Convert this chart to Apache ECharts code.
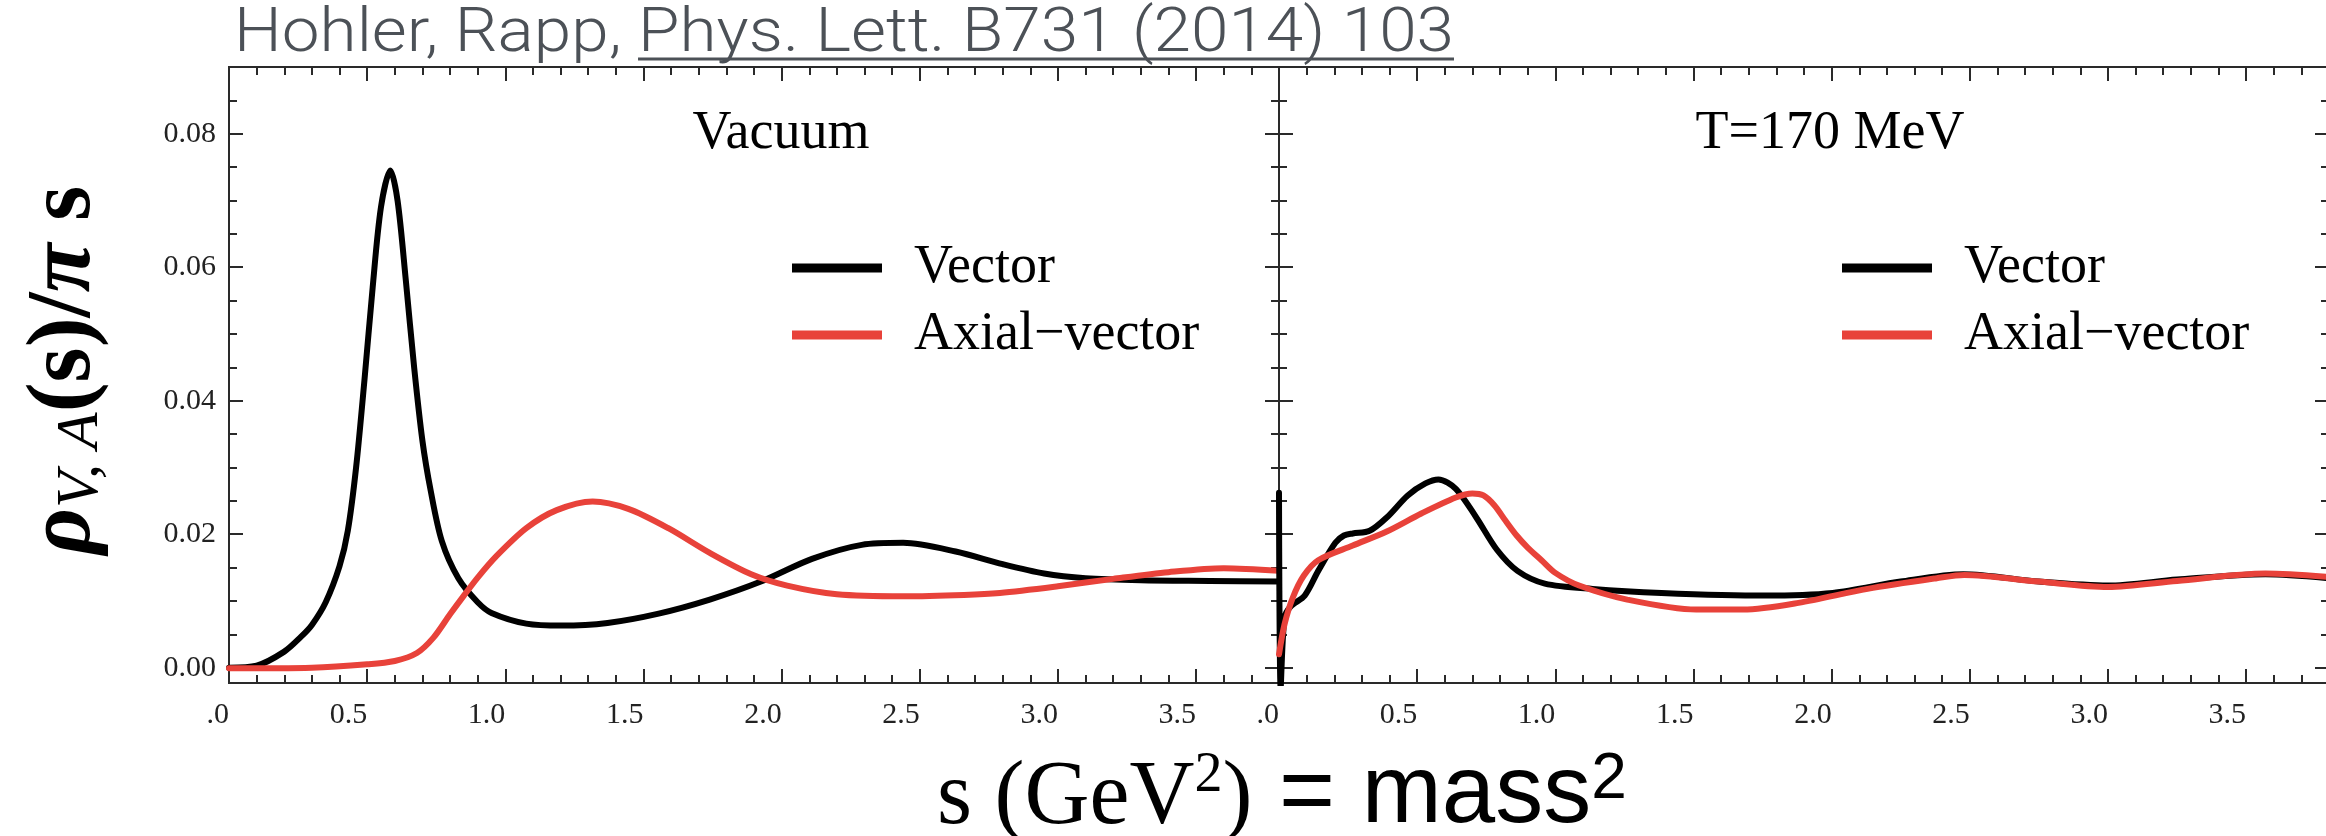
<!DOCTYPE html>
<html>
<head>
<meta charset="utf-8">
<title>Vector and axial-vector spectral functions</title>
<script src="https://cdn.jsdelivr.net/npm/echarts@6/dist/echarts.min.js"></script>
<style>
  html, body { margin: 0; padding: 0; background: #fff; }
  #chart { width: 2326px; height: 836px; }
</style>
</head>
<body>
<div id="chart"></div>
<script>
// ---- data: [s (GeV^2), rho/(pi s)] ----
const vacuumVector = [
  [0.00, 0.0000], [0.10, 0.0003], [0.20, 0.0024], [0.26, 0.0046], [0.30, 0.0064],
  [0.35, 0.0098], [0.40, 0.0152], [0.43, 0.0205], [0.46, 0.0300], [0.49, 0.0430],
  [0.52, 0.0570], [0.55, 0.0690], [0.584, 0.0745], [0.61, 0.0700], [0.64, 0.0580],
  [0.67, 0.0450], [0.70, 0.0340], [0.73, 0.0265], [0.77, 0.0190], [0.83, 0.0134],
  [0.90, 0.0098], [0.95, 0.0082], [1.076, 0.0066], [1.204, 0.0063], [1.37, 0.0067],
  [1.555, 0.0081], [1.74, 0.0102], [1.925, 0.0129], [2.11, 0.0163], [2.29, 0.0184],
  [2.44, 0.0187], [2.63, 0.0174], [2.80, 0.0155], [2.95, 0.0141], [3.10, 0.0134],
  [3.30, 0.0131], [3.55, 0.0130], [3.80, 0.0129]
];
const vacuumAxial = [
  [0.00, -0.0001], [0.30, 0.0000], [0.50, 0.0005], [0.60, 0.0010], [0.68, 0.0022],
  [0.74, 0.0045], [0.80, 0.0080], [0.85, 0.0108], [0.90, 0.0135], [0.965, 0.0166],
  [1.076, 0.0209], [1.186, 0.0236], [1.316, 0.0249], [1.445, 0.0238], [1.59, 0.0209],
  [1.74, 0.0172], [1.89, 0.0140], [2.02, 0.0123], [2.20, 0.0110], [2.44, 0.0107],
  [2.66, 0.0109], [2.79, 0.0112], [3.00, 0.0122], [3.20, 0.0133], [3.40, 0.0143],
  [3.60, 0.0149], [3.80, 0.0145]
];
const hotVector = [
  [0.000, 0.0262], [0.006, -0.0030], [0.020, 0.0075], [0.043, 0.0092], [0.093, 0.0108],
  [0.142, 0.0145], [0.204, 0.0187], [0.235, 0.0198], [0.267, 0.0201], [0.328, 0.0205],
  [0.39, 0.0225], [0.466, 0.0258], [0.53, 0.0276], [0.577, 0.0282], [0.64, 0.0268],
  [0.714, 0.0225], [0.788, 0.0177], [0.863, 0.0145], [0.962, 0.0126], [1.135, 0.0118],
  [1.384, 0.0112], [1.757, 0.0108], [2.004, 0.0112], [2.25, 0.0129], [2.477, 0.0140],
  [2.75, 0.0129], [3.00, 0.0123], [3.25, 0.0132], [3.57, 0.0140], [3.80, 0.0134]
];
const hotAxial = [
  [0.000, 0.0020], [0.020, 0.0065], [0.050, 0.0105], [0.090, 0.0138], [0.142, 0.0161],
  [0.267, 0.0183], [0.39, 0.0204], [0.515, 0.0231], [0.64, 0.0255], [0.70, 0.0261],
  [0.74, 0.0258], [0.78, 0.0243], [0.82, 0.0220], [0.86, 0.0198], [0.90, 0.0180],
  [0.95, 0.0161], [1.00, 0.0142], [1.086, 0.0123], [1.26, 0.0102], [1.51, 0.0087],
  [1.68, 0.0087], [1.88, 0.0097], [2.13, 0.0118], [2.38, 0.0134], [2.48, 0.0139],
  [2.75, 0.0129], [3.00, 0.0121], [3.25, 0.0130], [3.57, 0.0141], [3.80, 0.0136]
];

// ---- axes ----
const xRange = [0, 3.8];
const yRange = [-0.0023, 0.09];
const xMajorTicks = [0, 0.5, 1.0, 1.5, 2.0, 2.5, 3.0, 3.5];
const yMajorTicks = [0, 0.02, 0.04, 0.06, 0.08];
const panelTitles = ['Vacuum', 'T=170 MeV'];
const seriesNames = ['Vector', 'Axial\u2212vector'];

const xMinorTicks = [];
for (let i = 1; i <= 37; i++) if (i % 5 !== 0) xMinorTicks.push(i / 10);
const yMinorTicks = [];
for (let k = 1; k <= 17; k++) if (k % 4 !== 0) yMinorTicks.push(+(k * 0.005).toFixed(3));

const SERIF = "'Liberation Serif', 'DejaVu Serif', serif";
const SANS = "'Liberation Sans', Arial, sans-serif";
const FRAME = '#2a2a2a';
const RED = '#e8423a';

const grids = [
  { left: 229, top: 67, width: 1050, height: 616 },
  { left: 1279, top: 67, width: 1050, height: 616 }
];

function xAxisDef(g, pos, ticks, len, withLabels) {
  return {
    type: 'value', gridIndex: g, position: pos, min: xRange[0], max: xRange[1],
    axisLine: { show: true, onZero: false, lineStyle: { color: FRAME, width: 2 } },
    axisTick: { show: true, inside: true, length: len, customValues: ticks,
                lineStyle: { color: FRAME, width: 2 } },
    axisLabel: {
      show: withLabels, customValues: xMajorTicks, margin: 17, align: 'right',
      fontFamily: SERIF, fontSize: 30, color: '#222',
      formatter: v => (v === 0 ? '.0' : v.toFixed(1))
    },
    splitLine: { show: false }
  };
}
function yAxisDef(g, pos, ticks, len, withLabels) {
  return {
    type: 'value', gridIndex: g, position: pos, min: yRange[0], max: yRange[1],
    axisLine: { show: true, onZero: false, lineStyle: { color: FRAME, width: 2 } },
    axisTick: { show: true, inside: true, length: len, customValues: ticks,
                lineStyle: { color: FRAME, width: 2 } },
    axisLabel: {
      show: withLabels, customValues: yMajorTicks, margin: 13,
      fontFamily: SERIF, fontSize: 30, color: '#222',
      formatter: v => v.toFixed(2)
    },
    splitLine: { show: false }
  };
}

const xAxes = [], yAxes = [], xMain = [], yMain = [];
grids.forEach((_, g) => {
  xMain.push(xAxes.length);
  xAxes.push(xAxisDef(g, 'bottom', xMajorTicks, 14, true));
  xAxes.push(xAxisDef(g, 'bottom', xMinorTicks, 8, false));
  xAxes.push(xAxisDef(g, 'top', xMajorTicks, 14, false));
  xAxes.push(xAxisDef(g, 'top', xMinorTicks, 8, false));
  yMain.push(yAxes.length);
  yAxes.push(yAxisDef(g, 'left', yMajorTicks, 14, g === 0));
  yAxes.push(yAxisDef(g, 'left', yMinorTicks, 8, false));
  yAxes.push(yAxisDef(g, 'right', yMajorTicks, 14, false));
  yAxes.push(yAxisDef(g, 'right', yMinorTicks, 8, false));
});

function lineSeries(name, data, g, color) {
  return {
    type: 'line', name, data, color,
    xAxisIndex: xMain[g], yAxisIndex: yMain[g],
    showSymbol: false, symbol: 'none', smooth: 0.3, clip: true,
    lineStyle: { color, width: 6, cap: 'round', join: 'round' },
    itemStyle: { color }
  };
}

const series = [
  lineSeries(seriesNames[0], vacuumVector, 0, '#000000'),
  lineSeries(seriesNames[1], vacuumAxial, 0, RED),
  lineSeries(seriesNames[0], hotVector, 1, '#000000'),
  lineSeries(seriesNames[1], hotAxial, 1, RED)
];

function legendDef(left) {
  return {
    data: seriesNames, orient: 'vertical', left, top: 241, padding: 0,
    itemWidth: 90, itemHeight: 9, itemGap: 13, icon: 'rect', selectedMode: false,
    textStyle: { fontFamily: SERIF, fontSize: 54, color: '#000', padding: [0, 0, 0, 27] }
  };
}

// ---- header: citation with underlined reference, condensed to its box ----
const TITLE_FONT_FAMILY = 'Roboto, sans-serif';
const titleLead = 'Hohler, Rapp, ';
const titleRef = 'Phys. Lett. B731 (2014) 103';
const measureCtx = document.createElement('canvas').getContext('2d');
function textWidth(str, font) { measureCtx.font = font; return measureCtx.measureText(str).width; }
const titleLeft = 234, titleRight = 1454;
const titleSize = 62;
const titleFont = `300 ${titleSize}px ${TITLE_FONT_FAMILY}`;
const titleSqueeze = (titleRight - titleLeft) / textWidth(titleLead + titleRef, titleFont);
const refStart = titleLeft + titleSqueeze * textWidth(titleLead, titleFont);
const refEnd = refStart + titleSqueeze * textWidth(titleRef, titleFont);
const titleY = 35;
const TITLE_COLOR = '#4c5157';

const graphics = [
  { type: 'text', x: titleLeft, y: titleY, scaleX: titleSqueeze,
    style: { text: titleLead, font: titleFont, fill: TITLE_COLOR, align: 'left', verticalAlign: 'middle' } },
  { type: 'text', x: refStart, y: titleY, scaleX: titleSqueeze,
    style: { text: titleRef, font: titleFont, fill: TITLE_COLOR, align: 'left', verticalAlign: 'middle' } },
  { type: 'line', shape: { x1: refStart, y1: 59, x2: refEnd, y2: 59 },
    style: { stroke: TITLE_COLOR, lineWidth: 3 } },
  // panel labels
  { type: 'text', x: 781, y: 134,
    style: { text: panelTitles[0], fontFamily: SERIF, fontSize: 54, fill: '#000', align: 'center', verticalAlign: 'middle' } },
  { type: 'text', x: 1830, y: 134,
    style: { text: panelTitles[1], fontFamily: SERIF, fontSize: 54, fill: '#000', align: 'center', verticalAlign: 'middle' } },
  // y-axis title
  { type: 'text', x: 66, y: 370, rotation: Math.PI / 2,
    style: {
      text: '{r|\u03C1}{sub|V, A}{m|(s)/}{p|\u03C0}{m| s}',
      align: 'center', verticalAlign: 'middle',
      rich: {
        r: { fontFamily: SERIF, fontStyle: 'italic', fontWeight: 'bold', fontSize: 90, lineHeight: 90, verticalAlign: 'bottom', fill: '#000' },
        sub: { fontFamily: SERIF, fontStyle: 'italic', fontSize: 60, lineHeight: 26, verticalAlign: 'bottom', fill: '#000' },
        m: { fontFamily: SERIF, fontWeight: 'bold', fontSize: 90, lineHeight: 90, verticalAlign: 'bottom', fill: '#000' },
        p: { fontFamily: SERIF, fontStyle: 'italic', fontWeight: 'bold', fontSize: 90, lineHeight: 90, verticalAlign: 'bottom', fill: '#000' }
      }
    } },
  // x-axis title
  { type: 'text', x: 937, y: 844,
    style: {
      text: '{a|s (GeV}{b|2}{a|)}{c| = mass}{d|2}',
      align: 'left', verticalAlign: 'bottom',
      rich: {
        a: { fontFamily: SERIF, fontSize: 90, lineHeight: 90, verticalAlign: 'bottom', fill: '#000' },
        b: { fontFamily: SERIF, fontSize: 56, lineHeight: 36, verticalAlign: 'top', fill: '#000' },
        c: { fontFamily: SANS, fontSize: 96, lineHeight: 96, verticalAlign: 'bottom', fill: '#000' },
        d: { fontFamily: SANS, fontSize: 64, lineHeight: 72, verticalAlign: 'top', fill: '#000' }
      }
    } }
];

const chart = echarts.init(document.getElementById('chart'), null, { renderer: 'canvas' });
chart.setOption({
  animation: false,
  backgroundColor: '#ffffff',
  grid: grids.map(g => Object.assign({ containLabel: false, outerBoundsMode: 'none' }, g)),
  xAxis: xAxes,
  yAxis: yAxes,
  legend: [legendDef(792), legendDef(1842)],
  series,
  graphic: graphics
});
</script>
</body>
</html>
